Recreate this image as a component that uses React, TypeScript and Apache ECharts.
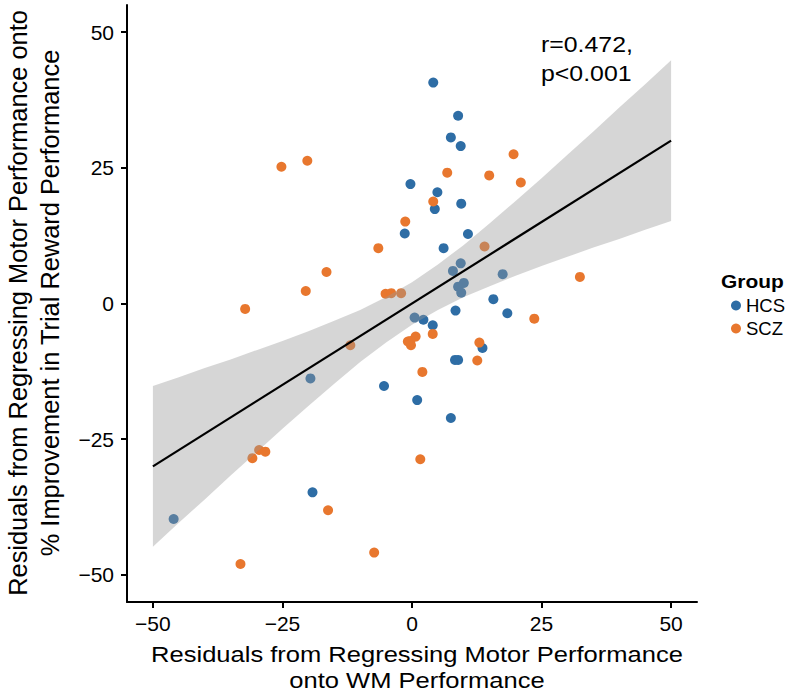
import React, { useEffect, useRef } from "react";
import * as echarts from "echarts";

// Scatter data
const hcsX = [-0.3, -1.4, 4.1, 8.9, 7.5, 9.4, 4.9, 4.4, 9.5, 10.8, 6.1, 9.4, 7.9, 17.5, 10.0, 8.9, 9.5, 15.7, 8.4, 0.5, 2.2, 4.0, 18.4, 13.6, 8.3, 8.9, -5.4, 1.0, 7.5, -19.6, -19.2, -46.0];
const hcsY = [22.0, 12.9, 40.7, 34.6, 30.6, 29.0, 20.5, 17.4, 18.4, 12.8, 10.2, 7.4, 6.0, 5.4, 3.8, 3.1, 2.0, 0.8, -1.3, -2.6, -3.0, -4.0, -1.8, -8.2, -10.4, -10.4, -15.2, -17.8, -21.1, -13.8, -34.8, -39.7];

const sczX = [-25.2, -20.2, -1.3, -6.5, -16.5, -20.5, -5.1, -4.0, -2.1, -32.2, 19.6, 6.8, 14.9, 21.0, 4.1, 14.0, 32.4, 23.6, 4.0, 0.7, -0.3, -0.2, -0.8, -11.9, 13.0, 12.6, 2.0, -29.5, -28.3, -30.8, 1.6, -16.2, -7.3, -33.1];
const sczY = [25.2, 26.3, 15.1, 10.2, 5.8, 2.3, 1.8, 1.9, 1.9, -1.0, 27.5, 24.1, 23.6, 22.3, 18.8, 10.5, 4.9, -2.8, -5.6, -6.1, -6.9, -7.7, -7.0, -7.7, -7.2, -10.5, -12.6, -27.0, -27.3, -28.5, -28.7, -38.1, -45.9, -48.0];

// Fitted regression line and its confidence band
const fitX = [-50, 50];
const fitY = [-30, 30];
const bandX = [-50, -45, -40, -35, -30, -25, -20, -15, -10, -5, 0, 5, 10, 15, 20, 25, 30, 35, 40, 45, 50];
const bandLower = [-44.8, -40.4, -36.1, -31.7, -27.4, -23.1, -18.9, -14.8, -10.8, -7.2, -3.9, -1.2, 1.2, 3.2, 5.1, 6.9, 8.6, 10.3, 11.9, 13.6, 15.2];
const bandUpper = [-15.2, -13.6, -11.9, -10.3, -8.6, -6.9, -5.1, -3.2, -1.2, 1.2, 3.9, 7.2, 10.8, 14.8, 18.9, 23.1, 27.4, 31.7, 36.1, 40.4, 44.8];

// Ticks
const xTicks = [-50, -25, 0, 25, 50];
const xTickLabels = ["\u221250", "\u221225", "0", "25", "50"];
const yTicks = [-50, -25, 0, 25, 50];
const yTickLabels = ["\u221250", "\u221225", "0", "25", "50"];

const FONT = "Liberation Sans";
const BLUE = "#2E6DA5";
const ORANGE = "#E8772E";

export default function App() {
  const ref = useRef<HTMLDivElement>(null);
  useEffect(() => {
    if (!ref.current) return;
    const chart = echarts.init(ref.current, undefined, { renderer: "svg" });
    const axisCommon = {
      type: "value" as const,
      min: -55,
      max: 55,
      splitLine: { show: false },
      axisLine: { show: true, onZero: false, lineStyle: { color: "#000", width: 2 } },
    };
    chart.setOption({
      animation: false,
      backgroundColor: "#fff",
      grid: { left: 127, right: 103, top: 5, bottom: 92, containLabel: false },
      xAxis: {
        ...axisCommon,
        axisTick: { show: true, length: 6, lineStyle: { color: "#000", width: 2 }, customValues: xTicks },
        axisLabel: {
          customValues: xTicks,
          formatter: (v: number) => xTickLabels[xTicks.indexOf(v)] ?? String(v),
          color: "#000",
          fontSize: 21,
          fontFamily: FONT,
          margin: 11,
        },
      },
      yAxis: {
        ...axisCommon,
        axisTick: { show: true, length: 6, lineStyle: { color: "#000", width: 2 }, customValues: yTicks },
        axisLabel: {
          customValues: yTicks,
          formatter: (v: number) => yTickLabels[yTicks.indexOf(v)] ?? String(v),
          color: "#000",
          fontSize: 21,
          fontFamily: FONT,
          margin: 13,
        },
      },
      legend: {
        orient: "vertical",
        left: 726,
        top: 291,
        icon: "circle",
        itemWidth: 10,
        itemHeight: 10,
        itemGap: 4,
        data: ["HCS", "SCZ"],
        textStyle: { fontSize: 18.5, fontFamily: FONT, color: "#000" },
      },
      graphic: [
        {
          type: "text",
          x: 34,
          y: 303,
          rotation: Math.PI / 2,
          style: {
            text: "Residuals from Regressing Motor Performance onto\n% Improvement in Trial Reward Performance",
            fontSize: 25.4,
            fontFamily: FONT,
            fill: "#000",
            align: "center",
            verticalAlign: "middle",
            lineHeight: 32,
          },
        },
        {
          type: "text",
          x: 417,
          y: 667,
          scaleX: 1.12,
          style: {
            text: "Residuals from Regressing Motor Performance\nonto WM Performance",
            fontSize: 22.8,
            fontFamily: FONT,
            fill: "#000",
            align: "center",
            verticalAlign: "middle",
            lineHeight: 26,
          },
        },
        {
          type: "text",
          x: 541,
          y: 59,
          scaleX: 1.13,
          style: {
            text: "r=0.472,\np<0.001",
            fontSize: 22,
            fontFamily: FONT,
            fill: "#000",
            align: "left",
            verticalAlign: "middle",
            lineHeight: 29,
          },
        },
        {
          type: "text",
          x: 721,
          y: 281,
          scaleX: 1.1,
          style: {
            text: "Group",
            fontSize: 19,
            fontWeight: "bold",
            fontFamily: FONT,
            fill: "#000",
            align: "left",
            verticalAlign: "middle",
          },
        },
      ],
      series: [
        {
          name: "HCS",
          type: "scatter",
          symbolSize: 10,
          itemStyle: { color: BLUE, opacity: 1 },
          data: hcsX.map((x, i) => [x, hcsY[i]]),
          z: 2,
        },
        {
          name: "SCZ",
          type: "scatter",
          symbolSize: 10,
          itemStyle: { color: ORANGE, opacity: 1 },
          data: sczX.map((x, i) => [x, sczY[i]]),
          z: 2,
        },
        {
          name: "band",
          type: "custom",
          z: 3,
          silent: true,
          data: bandX.map((x, i) => [x, bandLower[i], bandUpper[i]]),
          encode: { x: 0, y: [1, 2] },
          renderItem: (params: any, api: any) => {
            if (params.dataIndex !== 0) return null;
            const pts: number[][] = [];
            for (let i = 0; i < bandX.length; i++) pts.push(api.coord([bandX[i], bandUpper[i]]));
            for (let i = bandX.length - 1; i >= 0; i--) pts.push(api.coord([bandX[i], bandLower[i]]));
            return {
              type: "polygon",
              shape: { points: pts },
              style: { fill: "rgba(153,153,153,0.4)", stroke: "none" },
            };
          },
        },
        {
          name: "fit",
          type: "line",
          z: 4,
          symbol: "none",
          silent: true,
          lineStyle: { color: "#000", width: 2.2 },
          data: fitX.map((x, i) => [x, fitY[i]]),
        },
      ],
    });
    return () => chart.dispose();
  }, []);
  return (
    <div
      ref={ref}
      style={{ position: "absolute", left: 0, top: 0, width: 800, height: 694, background: "#fff" }}
    />
  );
}
